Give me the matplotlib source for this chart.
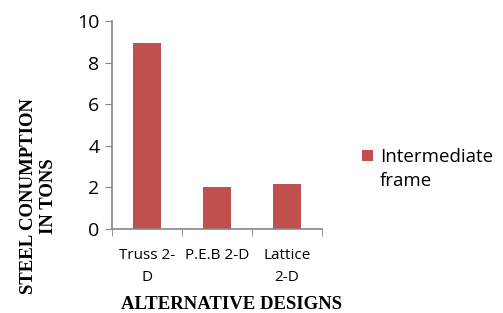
import matplotlib
matplotlib.use("Agg")
import matplotlib.pyplot as plt
import numpy as np

categories = ["Truss 2-\nD", "P.E.B 2-D", "Lattice\n2-D"]
values = [8.95, 2.0, 2.15]
series_name = "Intermediate"
series_name_2 = "frame"

fig = plt.figure(figsize=(5.03, 3.13), dpi=100)
ax = fig.add_axes([0.2227, 0.2684, 0.4175, 0.6645])

x = np.arange(len(categories))
ax.bar(x, values, width=0.4, color="#C0504D", label=series_name)

ax.set_xlim(-0.5, len(categories) - 0.5)
ax.set_ylim(0, 10)
ax.set_yticks([0, 2, 4, 6, 8, 10])
ax.set_xticks(x)
ax.set_xticklabels(categories, fontsize=11, family="Open Sans", linespacing=1.6)
ax.set_xticks(np.arange(-0.5, len(categories)), minor=True)
ax.tick_params(axis="x", which="major", length=0, pad=14)
ax.tick_params(axis="x", which="minor", length=5, color="#868686", direction="out")
ax.tick_params(axis="y", length=5, color="#868686", direction="out", labelsize=14, pad=4)
for lab in ax.get_yticklabels():
    lab.set_family("Open Sans")

for s in ["top", "right"]:
    ax.spines[s].set_visible(False)
for s in ["left", "bottom"]:
    ax.spines[s].set_color("#868686")
    ax.spines[s].set_linewidth(1.2)

fig.text(0.077, 0.374, "STEEL CONUMPTION\nIN TONS", rotation=90, ha="center", va="center",
         family="Liberation Serif", fontweight="bold", fontsize=13.5, linespacing=1.2)
fig.text(0.46, 0.027, "ALTERNATIVE DESIGNS", ha="center", va="center",
         family="Liberation Serif", fontweight="bold", fontsize=13.5)

leg = fig.legend(loc="center left", bbox_to_anchor=(0.7197, 0.498), frameon=False,
                 prop={"family": "Open Sans", "size": 13.5}, handlelength=0.6,
                 handleheight=0.6, handletextpad=0.35, borderpad=0, borderaxespad=0)
fig.canvas.draw()
bb = leg.get_texts()[0].get_window_extent().transformed(fig.transFigure.inverted())
fig.text(bb.x0, bb.y0 - 0.077, series_name_2, ha="left", va="bottom",
         family="Open Sans", fontsize=13.5)

fig.savefig("out.png", dpi=100)
